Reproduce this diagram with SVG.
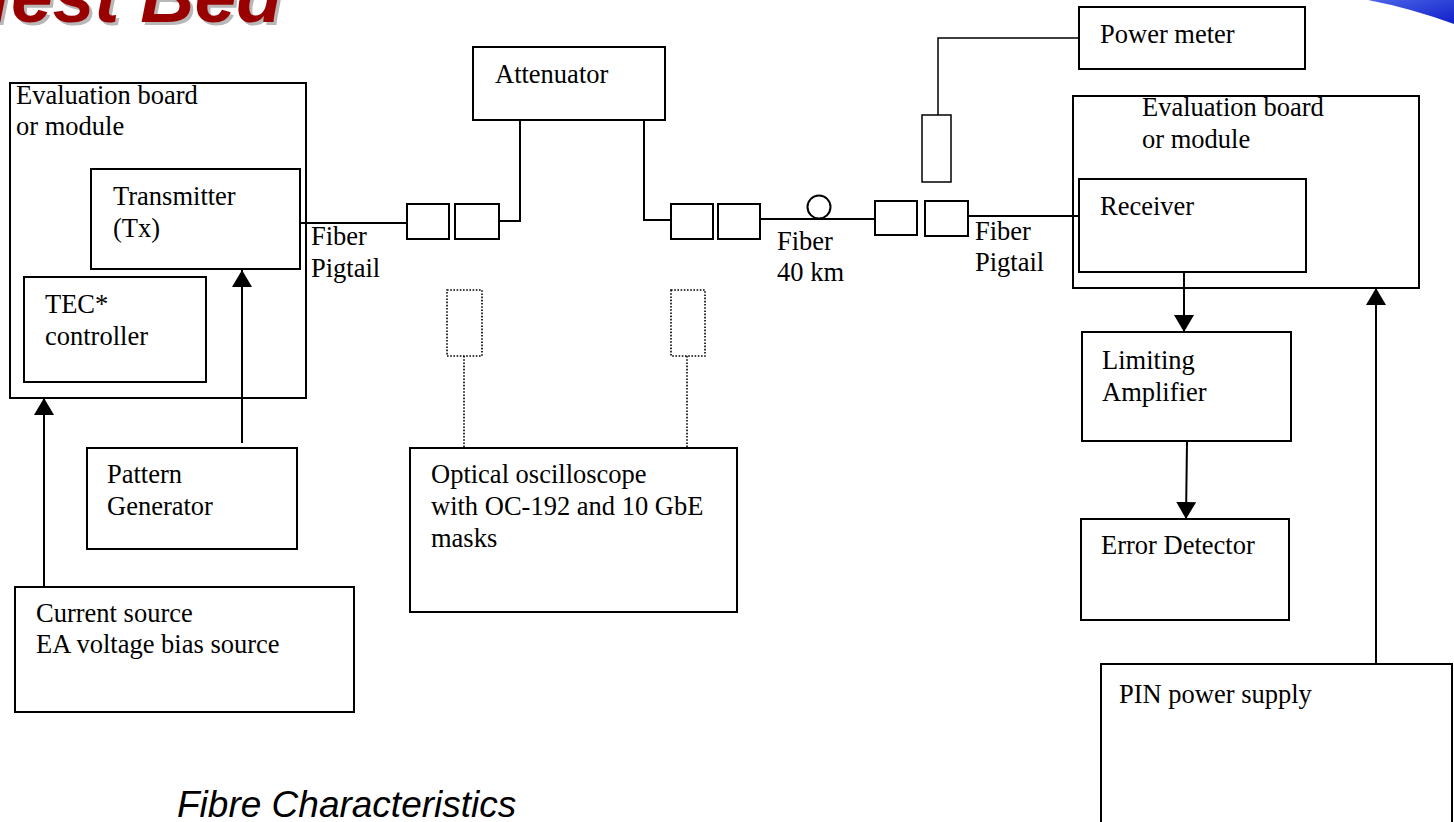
<svg xmlns="http://www.w3.org/2000/svg" width="1454" height="822" viewBox="0 0 1454 822">
<style>
.box{fill:#fff;stroke:#000;stroke-width:2}
.t{font-family:"Liberation Serif","Times New Roman",serif;font-size:26.5px;fill:#000}
.ln{fill:none;stroke:#000;stroke-width:2}
.thin{fill:none;stroke:#000;stroke-width:1.5}
.dot{fill:none;stroke:#000;stroke-width:1.6;stroke-dasharray:1.6 1.6}
.title{font-family:"Liberation Sans",Arial,sans-serif;font-size:75px;font-weight:bold;font-style:italic}
</style>
<defs>
<marker id="arr" viewBox="0 0 17 20" refX="17" refY="10" markerWidth="17" markerHeight="20" orient="auto" markerUnits="userSpaceOnUse">
<path d="M0,0 L17,10 L0,20 Z" fill="#000"/>
</marker>
<linearGradient id="blue" x1="0" y1="0" x2="1" y2="1">
<stop offset="0" stop-color="#4a64e8"/>
<stop offset="1" stop-color="#1020c8"/>
</linearGradient>
</defs>
<rect width="1454" height="822" fill="#fff"/>
<g id="title">
<text class="title" x="-21" y="25" dx="0 -8" fill="#b8b8b8">Test Bed</text>
<text class="title" x="-24" y="22" dx="0 -8" fill="#990000">Test Bed</text>
</g>
<g id="corner">
<path d="M1368,0 Q1410,8 1454,24 L1454,0 Z" fill="url(#blue)"/>
</g>
<g id="evalboard-left">
<rect class="box" x="10" y="83" width="296" height="315"/>
<text class="t" x="16" y="104">Evaluation board</text>
<text class="t" x="16" y="135">or module</text>
</g>
<g id="transmitter">
<rect class="box" x="91" y="169" width="209" height="100"/>
<text class="t" x="113" y="205">Transmitter</text>
<text class="t" x="113" y="237">(Tx)</text>
</g>
<g id="tec">
<rect class="box" x="24" y="277" width="182" height="105"/>
<text class="t" x="45" y="313">TEC*</text>
<text class="t" x="45" y="345">controller</text>
</g>
<g id="pattern-generator">
<rect class="box" x="87" y="448" width="210" height="101"/>
<text class="t" x="107" y="483">Pattern</text>
<text class="t" x="107" y="515">Generator</text>
</g>
<g id="current-source">
<rect class="box" x="15" y="587" width="339" height="125"/>
<text class="t" x="36" y="622">Current source</text>
<text class="t" x="36" y="653">EA voltage bias source</text>
</g>
<g id="fiber-pigtail-left-label">
<text class="t" x="311" y="245">Fiber</text>
<text class="t" x="311" y="277">Pigtail</text>
</g>
<g id="conn1">
<rect class="box" x="407" y="204" width="42" height="35"/>
<rect class="box" x="455" y="204" width="44" height="35"/>
</g>
<g id="attenuator">
<rect class="box" x="473" y="47" width="192" height="73"/>
<text class="t" x="495" y="83">Attenuator</text>
</g>
<g id="conn2">
<rect class="box" x="671" y="204" width="42" height="35"/>
<rect class="box" x="718" y="204" width="42" height="35"/>
</g>
<g id="fiber-spool">
<circle cx="819" cy="207" r="11.5" fill="#fff" stroke="#000" stroke-width="2"/>
<text class="t" x="777" y="250">Fiber</text>
<text class="t" x="777" y="281">40 km</text>
</g>
<g id="conn3">
<rect class="box" x="875" y="201" width="42" height="34"/>
<rect class="box" x="925" y="201" width="43" height="35"/>
</g>
<g id="fiber-pigtail-right-label">
<text class="t" x="975" y="240">Fiber</text>
<text class="t" x="975" y="271">Pigtail</text>
</g>
<g id="tap">
<rect class="thin" x="922" y="115" width="29" height="67" fill="#fff"/>
</g>
<g id="power-meter">
<rect class="box" x="1079" y="7" width="226" height="62"/>
<text class="t" x="1100" y="43">Power meter</text>
</g>
<g id="evalboard-right">
<rect class="box" x="1073" y="96" width="346" height="192"/>
<text class="t" x="1142" y="116">Evaluation board</text>
<text class="t" x="1142" y="148">or module</text>
</g>
<g id="receiver">
<rect class="box" x="1079" y="179" width="227" height="93"/>
<text class="t" x="1100" y="215">Receiver</text>
</g>
<g id="limiting-amplifier">
<rect class="box" x="1082" y="332" width="209" height="109"/>
<text class="t" x="1102" y="369">Limiting</text>
<text class="t" x="1102" y="401">Amplifier</text>
</g>
<g id="error-detector">
<rect class="box" x="1081" y="519" width="208" height="101"/>
<text class="t" x="1101" y="554">Error Detector</text>
</g>
<g id="pin-power-supply">
<rect class="box" x="1101" y="664" width="351" height="200"/>
<text class="t" x="1119" y="703">PIN power supply</text>
</g>
<g id="probe1">
<rect class="dot" x="447" y="290" width="35" height="66"/>
</g>
<g id="probe2">
<rect class="dot" x="671" y="290" width="34" height="66"/>
</g>
<g id="oscilloscope">
<rect class="box" x="410" y="448" width="327" height="164"/>
<text class="t" x="431" y="483">Optical oscilloscope</text>
<text class="t" x="431" y="515">with OC-192 and 10 GbE</text>
<text class="t" x="431" y="547">masks</text>
</g>
<g id="connectors">
<line class="ln" x1="299" y1="223" x2="407" y2="223"/>
<polyline class="ln" points="499,221 520,221 520,120"/>
<polyline class="ln" points="644,120 644,220 671,220"/>
<line class="ln" x1="760" y1="219" x2="875" y2="219"/>
<line class="ln" x1="968" y1="216" x2="1079" y2="216"/>
<polyline class="thin" points="1079,38 938,38 938,115"/>
<line class="ln" x1="242" y1="443" x2="242" y2="270" marker-end="url(#arr)"/>
<line class="ln" x1="44" y1="587" x2="44" y2="398" marker-end="url(#arr)"/>
<line class="ln" x1="1184" y1="272" x2="1184" y2="332" marker-end="url(#arr)"/>
<line class="ln" x1="1187" y1="441" x2="1186" y2="519" marker-end="url(#arr)"/>
<line class="ln" x1="1376" y1="664" x2="1376" y2="288" marker-end="url(#arr)"/>
<line class="dot" x1="464" y1="356" x2="464" y2="448"/>
<line class="dot" x1="687" y1="356" x2="687" y2="448"/>
</g>
<text x="177" y="817" font-family="'Liberation Sans',Arial,sans-serif" font-size="37" font-style="italic" fill="#000">Fibre Characteristics</text>
</svg>
